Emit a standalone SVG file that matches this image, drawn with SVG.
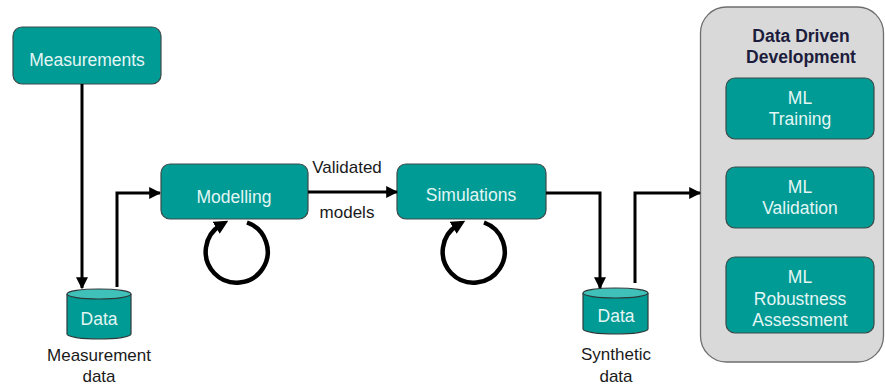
<svg xmlns="http://www.w3.org/2000/svg" width="885" height="387" viewBox="0 0 885 387">
  <style>
    .box { fill: #009b94; stroke: #3d4a4a; stroke-width: 1.2; }
    .box-text { font-family: "Liberation Sans", Arial, sans-serif; font-size: 17.5px; fill: #e4f6f4; text-anchor: middle; }
    .label { font-family: "Liberation Sans", Arial, sans-serif; font-size: 17px; fill: #1a1a1a; text-anchor: middle; }
    .title { font-family: "Liberation Sans", Arial, sans-serif; font-size: 17.5px; font-weight: bold; fill: #1c1c3c; text-anchor: middle; }
    .cyl-body { fill: #009b94; stroke: #2e3a3a; stroke-width: 1.2; }
    .cyl-top { fill: #3fc0b9; stroke: #2e3a3a; stroke-width: 1.2; }
    .conn { fill: none; stroke: #000; stroke-width: 3; }
    .loop { fill: none; stroke: #000; stroke-width: 4.5; }
  </style>
  <defs>
    <marker id="arrow" viewBox="0 0 10 10" refX="9" refY="5" markerWidth="12" markerHeight="12" markerUnits="userSpaceOnUse" orient="auto">
      <path d="M0,0 L10,5 L0,10 z" fill="#000"/>
    </marker>
    <marker id="arrow-loop" viewBox="0 0 10 10" refX="4" refY="5" markerWidth="14" markerHeight="14" markerUnits="userSpaceOnUse" orient="auto">
      <path d="M0,0 L10,5 L0,10 z" fill="#000"/>
    </marker>
  </defs>

  <!-- container for data driven development -->
  <g id="data-driven-development">
    <rect x="700.5" y="7" width="183" height="355" rx="26" fill="#d9d9d9" stroke="#6e6e6e" stroke-width="1.3"/>
    <text class="title" x="801" y="42">Data Driven</text>
    <text class="title" x="801" y="63">Development</text>
  </g>

  <g id="ml-training">
    <rect class="box" x="726" y="78" width="148" height="61" rx="9"/>
    <text class="box-text" x="800" y="104">ML</text>
    <text class="box-text" x="800" y="125">Training</text>
  </g>

  <g id="ml-validation">
    <rect class="box" x="726" y="167" width="148" height="61" rx="9"/>
    <text class="box-text" x="800" y="193">ML</text>
    <text class="box-text" x="800" y="214">Validation</text>
  </g>

  <g id="ml-robustness">
    <rect class="box" x="726" y="257" width="148" height="76" rx="9"/>
    <text class="box-text" x="800" y="283">ML</text>
    <text class="box-text" x="800" y="305">Robustness</text>
    <text class="box-text" x="800" y="326">Assessment</text>
  </g>

  <g id="measurements">
    <rect class="box" x="13" y="27" width="148" height="57" rx="9"/>
    <text class="box-text" x="87" y="66">Measurements</text>
  </g>

  <g id="modelling">
    <rect class="box" x="161" y="164" width="147" height="55" rx="9"/>
    <text class="box-text" x="234" y="203">Modelling</text>
  </g>

  <g id="simulations">
    <rect class="box" x="397" y="164" width="149" height="55" rx="9"/>
    <text class="box-text" x="471" y="201">Simulations</text>
  </g>

  <g id="measurement-data">
    <path class="cyl-body" d="M67,294 V334 A32,5 0 0 0 131,334 V294"/>
    <ellipse class="cyl-top" cx="99" cy="294" rx="32" ry="5"/>
    <text class="box-text" x="99" y="325">Data</text>
    <text class="label" x="99" y="361">Measurement</text>
    <text class="label" x="99" y="382">data</text>
  </g>

  <g id="synthetic-data">
    <path class="cyl-body" d="M583,293 V329 A32.5,5 0 0 0 648,329 V293"/>
    <ellipse class="cyl-top" cx="615.5" cy="293" rx="32.5" ry="5"/>
    <text class="box-text" x="616" y="322">Data</text>
    <text class="label" x="616" y="360">Synthetic</text>
    <text class="label" x="616" y="382">data</text>
  </g>

  <!-- connectors -->
  <g id="connectors">
    <path class="conn" d="M82,84 V288" marker-end="url(#arrow)"/>
    <path class="conn" d="M117,287 V193 H160" marker-end="url(#arrow)"/>
    <path class="conn" d="M308,192 H397" marker-end="url(#arrow)"/>
    <text class="label" x="347" y="173">Validated</text>
    <text class="label" x="347" y="218">models</text>
    <path class="conn" d="M546,193 H600 V288" marker-end="url(#arrow)"/>
    <path class="conn" d="M635,283 V193 H700" marker-end="url(#arrow)"/>
    <!-- self loops under the process boxes -->
    <path class="loop" d="M247,222.5 A31,31 0 1 1 221,225" marker-end="url(#arrow-loop)"/>
    <path class="loop" d="M484,222.5 A31,31 0 1 1 458,225" marker-end="url(#arrow-loop)"/>
  </g>
</svg>
